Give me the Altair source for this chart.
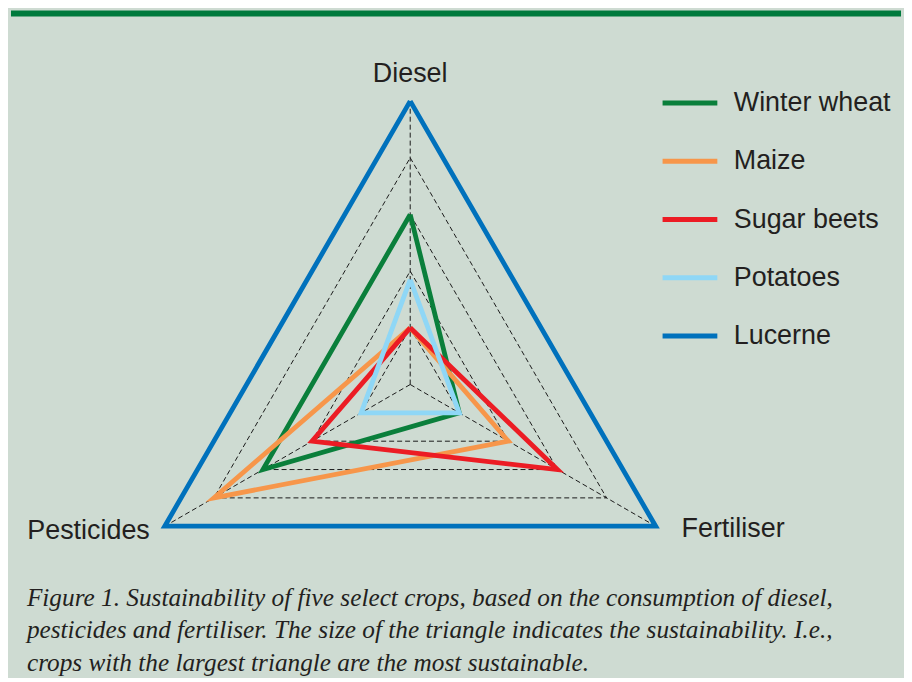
import altair as alt
import pandas as pd

# ---------------- data ----------------
axis_names = ["Diesel", "Fertiliser", "Pesticides"]
crops = ["Winter wheat", "Maize", "Sugar beets", "Potatoes", "Lucerne"]
diesel = [0.60, 0.20, 0.20, 0.37, 1.00]
fertiliser = [0.20, 0.40, 0.60, 0.20, 1.00]
pesticides = [0.60, 0.80, 0.40, 0.20, 1.00]
grid_levels = [0.2, 0.4, 0.6, 0.8]
crop_colors = ["#0a7f3b", "#f7964a", "#ec1c24", "#8fd7f6", "#0071bc"]
caption = [
    "Figure 1. Sustainability of five select crops, based on the consumption of diesel,",
    "pesticides and fertiliser. The size of the triangle indicates the sustainability. I.e.,",
    "crops with the largest triangle are the most sustainable.",
]

# ---------------- tables ----------------
crop_rows = []
for c, d, f, p in zip(crops, diesel, fertiliser, pesticides):
    vals = [d, f, p]
    for k in range(4):
        crop_rows.append({"crop": c, "idx": k % 3, "value": vals[k % 3], "k": k})
crop_df = pd.DataFrame(crop_rows)

grid_rows = []
for lv in grid_levels:
    for k in range(4):
        grid_rows.append({"level": lv, "idx": k % 3, "value": lv, "k": k})
grid_df = pd.DataFrame(grid_rows)

spoke_rows = []
for i, _ in enumerate(axis_names):
    for v in (0.0, 1.0):
        spoke_rows.append({"idx": i, "value": v})
spoke_df = pd.DataFrame(spoke_rows)

label_df = pd.DataFrame({"name": axis_names, "idx": list(range(3)), "value": [1.0] * 3})

W, H = 896, 572
R = 284.7  # px per unit radius
cx, cy = 403.0, 376.7
xs = alt.Scale(domain=[-cx / R, (W - cx) / R], nice=False, zero=False)
ys = alt.Scale(domain=[(cy - H) / R, cy / R], nice=False, zero=False)


def polar(ch):
    return ch.transform_calculate(
        ang="PI/2 - datum.idx*2*PI/3"
    ).transform_calculate(
        px="datum.value*cos(datum.ang)", py="datum.value*sin(datum.ang)"
    )


X = alt.X("px:Q", scale=xs, axis=None)
Y = alt.Y("py:Q", scale=ys, axis=None)

grid = polar(alt.Chart(grid_df)).mark_line(
    color="#1a1a1a", strokeWidth=1, strokeDash=[5, 3]
).encode(x=X, y=Y, detail="level:N", order="k:Q")

spokes = polar(alt.Chart(spoke_df)).mark_line(
    color="#1a1a1a", strokeWidth=1, strokeDash=[5, 3]
).encode(x=X, y=Y, detail="idx:N", order="value:Q")

tri = polar(alt.Chart(crop_df)).mark_line(strokeWidth=4.8, strokeJoin="miter").encode(
    x=X,
    y=Y,
    order="k:Q",
    color=alt.Color(
        "crop:N",
        scale=alt.Scale(domain=crops, range=crop_colors),
        sort=crops,
        legend=alt.Legend(
            title=None,
            orient="none",
            legendX=654,
            legendY=64,
            symbolType="stroke",
            symbolSize=3025,
            symbolStrokeWidth=5,
            symbolOpacity=1,
            labelFontSize=27,
            labelFont="Liberation Sans",
            labelColor="#231f20",
            labelOffset=14,
            rowPadding=15.5,
            padding=0,
            labelLimit=0,
        ),
    ),
)

txt_style = dict(font="Liberation Sans", fontSize=27, color="#231f20")
lab_d = polar(alt.Chart(label_df)).transform_filter("datum.idx == 0").mark_text(
    align="center", baseline="alphabetic", dy=-19, **txt_style
).encode(x=X, y=Y, text="name:N")
lab_f = polar(alt.Chart(label_df)).transform_filter("datum.idx == 1").mark_text(
    align="left", baseline="middle", dx=26, dy=3, **txt_style
).encode(x=X, y=Y, text="name:N")
lab_p = polar(alt.Chart(label_df)).transform_filter("datum.idx == 2").mark_text(
    align="right", baseline="middle", dx=-15, dy=5, **txt_style
).encode(x=X, y=Y, text="name:N")

topbar = alt.Chart(pd.DataFrame({"a": [0]})).mark_rule(
    color="#007a3d", strokeWidth=6
).encode(x=alt.value(2), x2=alt.value(W), y=alt.value(4))

chart = (
    alt.layer(topbar, grid, spokes, tri, lab_d, lab_f, lab_p)
    .properties(
        width=W,
        height=H,
        padding=0,
        background="#cedbd2",
        title=alt.Title(
            text=caption,
            orient="bottom",
            anchor="start",
            frame="group",
            font="Liberation Serif",
            fontStyle="italic",
            fontWeight="normal",
            fontSize=25.4,
            lineHeight=32.5,
            color="#231f20",
            offset=7,
            dx=18,
        ),
    )
    .configure_view(stroke=None)
)

chart.save("out.html", embed_options={"renderer": "svg", "actions": False})
